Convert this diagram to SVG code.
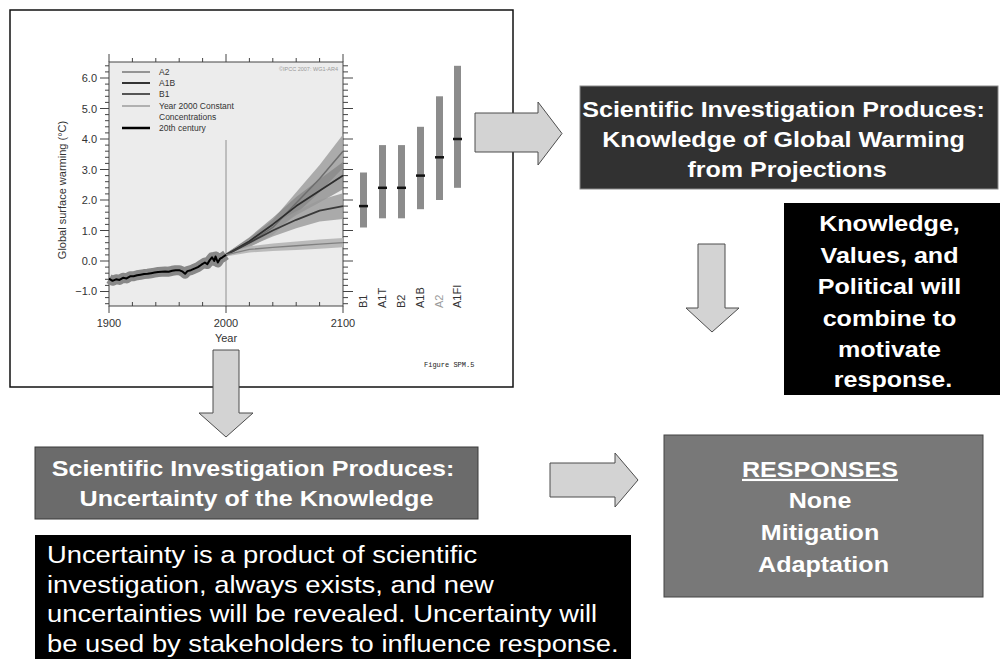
<svg xmlns="http://www.w3.org/2000/svg" width="1000" height="659" viewBox="0 0 1000 659">
  <defs>
    <style>
      .hd { font-family: "Liberation Sans", Arial, sans-serif; font-weight: bold; font-size: 22px; fill: #ffffff; text-anchor: middle; }
      .bd { font-family: "Liberation Sans", Arial, sans-serif; font-size: 24px; fill: #ffffff; }
      .ax { font-family: "Liberation Sans", Arial, sans-serif; font-size: 11px; fill: #333333; }
      .lg { font-family: "Liberation Sans", Arial, sans-serif; font-size: 8.5px; fill: #333333; }
      .tick { stroke: #444444; stroke-width: 1; fill: none; }
      .blk { fill: #d3d3d3; stroke: #4d4d4d; stroke-width: 1; }
      .bar { fill: #8c8c8c; }
      .med { stroke: #111111; stroke-width: 2.5; }
    </style>
  </defs>

  <rect width="1000" height="659" fill="#ffffff"/>

  <!-- Projection chart -->
  <g id="chart">
    <rect x="10" y="10" width="503" height="377" fill="#ffffff" stroke="#111111" stroke-width="1.5"/>
    <rect x="109" y="62" width="234" height="244" fill="#ececec" stroke="#444444" stroke-width="1"/>

    <!-- axis ticks -->
    <path class="tick" d="M105 303.7h4M105 297.6h4M105 285.4h4M105 279.3h4M105 273.2h4M105 267.1h4M105 254.9h4M105 248.8h4M105 242.7h4M105 236.6h4M105 224.4h4M105 218.3h4M105 212.2h4M105 206.1h4M105 193.9h4M105 187.8h4M105 181.7h4M105 175.6h4M105 163.4h4M105 157.3h4M105 151.2h4M105 145.1h4M105 132.9h4M105 126.8h4M105 120.7h4M105 114.6h4M105 102.4h4M105 96.3h4M105 90.2h4M105 84.1h4M105 71.9h4M105 65.8h4"/>
    <path class="tick" d="M100 291.5h9M100 261h9M100 230.5h9M100 200h9M100 169.5h9M100 139h9M100 108.5h9M100 78h9"/>
    <path class="tick" d="M343 303.7h5M343 297.6h5M343 285.4h5M343 279.3h5M343 273.2h5M343 267.1h5M343 254.9h5M343 248.8h5M343 242.7h5M343 236.6h5M343 224.4h5M343 218.3h5M343 212.2h5M343 206.1h5M343 193.9h5M343 187.8h5M343 181.7h5M343 175.6h5M343 163.4h5M343 157.3h5M343 151.2h5M343 145.1h5M343 132.9h5M343 126.8h5M343 120.7h5M343 114.6h5M343 102.4h5M343 96.3h5M343 90.2h5M343 84.1h5M343 71.9h5M343 65.8h5"/>
    <path class="tick" d="M343 291.5h10M343 261h10M343 230.5h10M343 200h10M343 169.5h10M343 139h10M343 108.5h10M343 78h10"/>
    <path class="tick" d="M132.4 62v-4M155.8 62v-4M179.2 62v-4M202.6 62v-4M249.4 62v-4M272.8 62v-4M296.2 62v-4M319.6 62v-4M109 62v-8M226 62v-8M343 62v-8"/>
    <path class="tick" d="M132.4 306v-4M155.8 306v-4M179.2 306v-4M202.6 306v-4M249.4 306v-4M272.8 306v-4M296.2 306v-4M319.6 306v-4M109 306v7M226 306v7M343 306v7"/>

    <!-- tick labels -->
    <g class="ax" text-anchor="end">
      <text x="97" y="82">6.0</text>
      <text x="97" y="113">5.0</text>
      <text x="97" y="143">4.0</text>
      <text x="97" y="174">3.0</text>
      <text x="97" y="204">2.0</text>
      <text x="97" y="235">1.0</text>
      <text x="97" y="265">0.0</text>
      <text x="97" y="295">−1.0</text>
    </g>
    <g class="ax" text-anchor="middle">
      <text x="109" y="327">1900</text>
      <text x="226" y="327">2000</text>
      <text x="343" y="327">2100</text>
      <text x="226" y="342">Year</text>
    </g>
    <text class="ax" font-size="10.5" text-anchor="middle" transform="translate(66,190) rotate(-90)">Global surface warming (°C)</text>

    <!-- year 2000 marker -->
    <line x1="226" y1="140" x2="226" y2="306" stroke="#7a7a7a" stroke-width="0.8"/>

    <!-- legend -->
    <line x1="122" y1="72" x2="150" y2="72" stroke="#777777" stroke-width="1.5"/>
    <line x1="122" y1="83" x2="150" y2="83" stroke="#333333" stroke-width="2"/>
    <line x1="122" y1="94" x2="150" y2="94" stroke="#555555" stroke-width="2"/>
    <line x1="122" y1="106" x2="150" y2="106" stroke="#888888" stroke-width="1.2"/>
    <line x1="122" y1="128" x2="150" y2="128" stroke="#000000" stroke-width="2.5"/>
    <text class="lg" x="159" y="75">A2</text>
    <text class="lg" x="159" y="86">A1B</text>
    <text class="lg" x="159" y="97">B1</text>
    <text class="lg" x="159" y="109">Year 2000 Constant</text>
    <text class="lg" x="159" y="120">Concentrations</text>
    <text class="lg" x="159" y="131">20th century</text>
    <text x="338" y="71" text-anchor="end" font-family="Liberation Sans, Arial, sans-serif" font-size="5.5" fill="#9a9a9a">©IPCC 2007: WG1-AR4</text>

    <!-- scenario spread bands -->
    <polygon fill="#a0a0a0" fill-opacity="0.85" points="226,253.4 249.4,238.1 272.8,219.85 296.2,192.35 319.6,164.95 343,134.4 343,168 319.6,192.35 296.2,213.75 272.8,235.05 249.4,247.3 226,256.4"/>
    <polygon fill="#828282" fill-opacity="0.7" points="226,253.4 249.4,237.2 272.8,217.7 296.2,196.95 319.6,179.25 343,161.9 343,189.3 319.6,202.45 296.2,215.25 272.8,231.1 249.4,245.2 226,256.4"/>
    <polygon fill="#9a9a9a" fill-opacity="0.8" points="226,253.4 249.4,239 272.8,224.4 296.2,211.3 319.6,200 343,193.3 343,218.9 319.6,221.4 296.2,228.3 272.8,236.6 249.4,246.4 226,256.4"/>
    <polygon fill="#b5b5b5" fill-opacity="0.9" points="226,253.4 249.4,246.35 272.8,243.6 296.2,241.45 319.6,239.6 343,238.1 343,247.3 319.6,248.8 296.2,250.05 272.8,251 249.4,252.45 226,256.4"/>

    <!-- scenario mean lines -->
    <polyline fill="none" stroke="#6e6e6e" stroke-width="1.5" stroke-linejoin="round" points="226,254.9 249.4,242.7 272.8,227.45 296.2,203.05 319.6,178.65 343,151.2"/>
    <polyline fill="none" stroke="#2e2e2e" stroke-width="1.8" stroke-linejoin="round" points="226,254.9 249.4,241.2 272.8,224.4 296.2,206.1 319.6,190.85 343,175.6"/>
    <polyline fill="none" stroke="#3a3a3a" stroke-width="1.8" stroke-linejoin="round" points="226,254.9 249.4,242.7 272.8,230.5 296.2,219.8 319.6,210.7 343,206.1"/>
    <polyline fill="none" stroke="#808080" stroke-width="1.3" stroke-linejoin="round" points="226,254.9 249.4,249.4 272.8,247.3 296.2,245.75 319.6,244.2 343,242.7"/>

    <!-- 20th century record with its spread -->
    <polyline fill="none" stroke="#888888" stroke-width="10" stroke-linejoin="round" stroke-linecap="butt" points="109,278.7 112.5,280.8 116,279.3 119.5,279.9 123,277.8 126.6,278.4 130.1,276.3 133.6,276.3 137.1,275.3 140.6,274.7 144.1,274.1 147.6,273.8 151.1,273.2 154.6,272.6 158.1,272 161.7,271.7 165.2,271.4 168.7,271.7 172.2,270.8 175.7,270.2 179.2,270.2 182.7,271.7 185.1,273.8 187.4,271.1 190.9,270.2 194.4,268.6 197.9,267.1 201.4,264.7 204.9,262.5 207.3,264.1 209.6,260.4 212,257.3 214.3,261 215.5,256.4 217.8,262.5 220.2,258.6 222.5,257.3 226,254.9"/>
    <polyline fill="none" stroke="#000000" stroke-width="2" stroke-linejoin="round" points="109,278.7 112.5,280.8 116,279.3 119.5,279.9 123,277.8 126.6,278.4 130.1,276.3 133.6,276.3 137.1,275.3 140.6,274.7 144.1,274.1 147.6,273.8 151.1,273.2 154.6,272.6 158.1,272 161.7,271.7 165.2,271.4 168.7,271.7 172.2,270.8 175.7,270.2 179.2,270.2 182.7,271.7 185.1,273.8 187.4,271.1 190.9,270.2 194.4,268.6 197.9,267.1 201.4,264.7 204.9,262.5 207.3,264.1 209.6,260.4 212,257.3 214.3,261 215.5,256.4 217.8,262.5 220.2,258.6 222.5,257.3 226,254.9"/>

    <!-- 2090-2099 likely ranges -->
    <rect class="bar" x="360" y="172.5" width="7" height="55"/>
    <rect class="bar" x="379" y="145.1" width="7" height="73.2"/>
    <rect class="bar" x="398" y="145.1" width="7" height="73.2"/>
    <rect class="bar" x="417" y="126.8" width="7" height="82.4"/>
    <rect class="bar" x="436" y="96.3" width="7" height="103.7"/>
    <rect class="bar" x="454" y="65.8" width="7" height="122"/>
    <line class="med" x1="359" y1="206.1" x2="368" y2="206.1"/>
    <line class="med" x1="378" y1="187.8" x2="387" y2="187.8"/>
    <line class="med" x1="397" y1="187.8" x2="406" y2="187.8"/>
    <line class="med" x1="416" y1="175.6" x2="425" y2="175.6"/>
    <line class="med" x1="435" y1="157.3" x2="444" y2="157.3" stroke="#666666"/>
    <line class="med" x1="453" y1="139" x2="462" y2="139"/>
    <g class="ax" font-size="10.5">
      <text transform="translate(367,308) rotate(-90)">B1</text>
      <text transform="translate(386,308) rotate(-90)">A1T</text>
      <text transform="translate(405,308) rotate(-90)">B2</text>
      <text transform="translate(424,308) rotate(-90)">A1B</text>
      <text transform="translate(443,308) rotate(-90)" fill="#9a9a9a">A2</text>
      <text transform="translate(461,308) rotate(-90)">A1FI</text>
    </g>

    <text x="424" y="367" font-family="Liberation Mono, Courier New, monospace" font-size="7" fill="#222222">Figure SPM.5</text>
  </g>

  <!-- Knowledge from projections -->
  <g id="node-knowledge">
    <rect x="580" y="86" width="418" height="103" fill="#313131" stroke="#8a8a8a" stroke-width="1"/>
    <g transform="translate(787,0) scale(1.14,1)">
      <text class="hd">
        <tspan x="0" y="117">Scientific Investigation Produces:</tspan>
        <tspan x="0" y="147">Knowledge of Global Warming</tspan>
        <tspan x="0" y="177">from Projections</tspan>
      </text>
    </g>
  </g>

  <!-- Knowledge, values and political will -->
  <g id="node-motivate">
    <rect x="784" y="203" width="216" height="192" fill="#000000"/>
    <g transform="translate(893,0) scale(1.14,1)">
      <text class="hd">
        <tspan x="0" y="231">Knowledge,</tspan>
        <tspan x="0" y="263">Values, and</tspan>
        <tspan x="0" y="294">Political will</tspan>
        <tspan x="0" y="326">combine to</tspan>
        <tspan x="0" y="357">motivate</tspan>
        <tspan x="0" y="387">response.</tspan>
      </text>
    </g>
  </g>

  <!-- Uncertainty of the knowledge -->
  <g id="node-uncertainty">
    <rect x="35" y="447" width="443" height="72" fill="#6b6b6b" stroke="#3a3a3a" stroke-width="1"/>
    <g transform="translate(256.5,0) scale(1.14,1)">
      <text class="hd">
        <tspan x="0" y="476">Scientific Investigation Produces:</tspan>
        <tspan x="0" y="506">Uncertainty of the Knowledge</tspan>
      </text>
    </g>
  </g>

  <!-- Note on uncertainty -->
  <g id="node-uncertainty-note">
    <rect x="35" y="535" width="596" height="124" fill="#000000"/>
    <g transform="translate(47,0) scale(1.14,1)">
      <text class="bd">
        <tspan x="0" y="563">Uncertainty is a product of scientific</tspan>
        <tspan x="0" y="593">investigation, always exists, and new</tspan>
        <tspan x="0" y="622">uncertainties will be revealed. Uncertainty will</tspan>
        <tspan x="0" y="652">be used by stakeholders to influence response.</tspan>
      </text>
    </g>
  </g>

  <!-- Responses -->
  <g id="node-responses">
    <rect x="664" y="435" width="319" height="162" fill="#787878" stroke="#444444" stroke-width="1"/>
    <g transform="translate(823.5,0) scale(1.14,1)">
      <text class="hd" font-size="24">
        <tspan x="0" y="477" text-decoration="underline">RESPONSES</tspan>
        <tspan x="0" y="508">None</tspan>
        <tspan x="0" y="540">Mitigation</tspan>
        <tspan x="0" y="572">Adaptation</tspan>
      </text>
    </g>
  </g>

  <!-- Block arrows -->
  <g id="connectors">
    <polygon class="blk" points="475,113 538,113 538,102 562,133.5 538,165 538,152 475,152"/>
    <polygon class="blk" points="698,244 725,244 725,308 739,308 712,332 686,308 698,308"/>
    <polygon class="blk" points="213,350 239,350 239,413 253,413 226,437 199,413 213,413"/>
    <polygon class="blk" points="550,463 615,463 615,453 638,480 615,507 615,497 550,497"/>
  </g>
</svg>
